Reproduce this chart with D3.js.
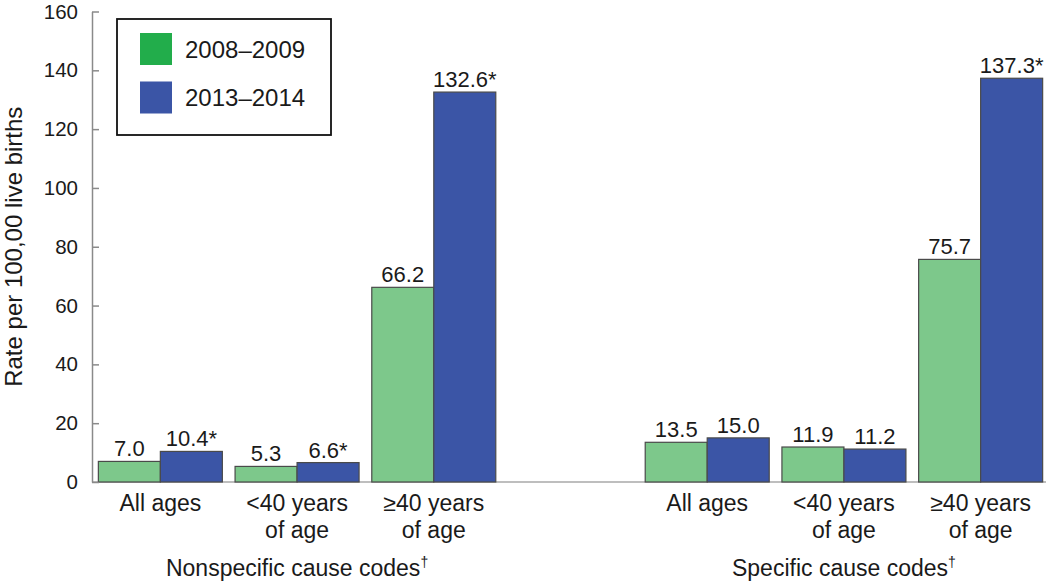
<!DOCTYPE html>
<html>
<head>
<meta charset="utf-8">
<script src="https://cdn.jsdelivr.net/npm/d3@7"></script>
<style>
  html, body { margin: 0; padding: 0; background: #fff; }
  svg { display: block; font-family: "Liberation Sans", Arial, Helvetica, sans-serif; }
</style>
</head>
<body>
<svg id="chart" width="1050" height="582"></svg>
<script>
// ---- data ----
const groupNames = ["Nonspecific cause codes", "Specific cause codes"];
const ageCategories = [["All ages"], ["<40 years", "of age"], ["≥40 years", "of age"]];
const seriesNames = ["2008–2009", "2013–2014"];
const rates2008 = [7.0, 5.3, 66.2, 13.5, 11.9, 75.7];
const rates2013 = [10.4, 6.6, 132.6, 15.0, 11.2, 137.3];
const significant2008 = [false, false, false, false, false, false];
const significant2013 = [true, true, true, false, false, true];
const yTicks = [0, 20, 40, 60, 80, 100, 120, 140, 160];
const yTitle = "Rate per 100,00 live births";

// ---- styles ----
const barColors = ["#7dc88b", "#3b55a6"];
const legendColors = ["#22ad4b", "#3b55a6"];

const svg = d3.select("#chart");

// slot keys: group0 cats, a gap, group1 cats
const slots = [];
groupNames.forEach((g, gi) => {
  ageCategories.forEach((c, ci) => slots.push({ key: gi + "-" + ci, gi, ci, idx: gi * 3 + ci }));
  if (gi === 0) slots.push({ key: "gap", gap: true });
});
const dataSlots = slots.filter(s => !s.gap);

const x = d3.scaleBand()
  .domain(slots.map(s => s.key))
  .range([92, 1049])
  .paddingInner(0.093)
  .paddingOuter(0.0465);

const xs = d3.scaleBand().domain(seriesNames).range([0, x.bandwidth()]).padding(0);

const y = d3.scaleLinear().domain([0, 160]).range([482, 11.5]);

// baseline
svg.append("line")
  .attr("x1", 92).attr("x2", 1046)
  .attr("y1", y(0)).attr("y2", y(0))
  .attr("stroke", "#a8a8a8").attr("stroke-width", 1.5);

// bars
const seriesData = [rates2008, rates2013];
const sigData = [significant2008, significant2013];

seriesNames.forEach((sName, si) => {
  const g = svg.append("g");
  g.selectAll("rect")
    .data(dataSlots)
    .join("rect")
    .attr("x", d => x(d.key) + xs(sName))
    .attr("y", d => y(seriesData[si][d.idx]))
    .attr("width", xs.bandwidth())
    .attr("height", d => y(0) - y(seriesData[si][d.idx]))
    .attr("fill", barColors[si])
    .attr("stroke", "#4a4a4a")
    .attr("stroke-width", 1.2);

  g.selectAll("text")
    .data(dataSlots)
    .join("text")
    .attr("x", d => x(d.key) + xs(sName) + xs.bandwidth() / 2)
    .attr("y", d => y(seriesData[si][d.idx]) - 5)
    .attr("text-anchor", "middle")
    .attr("font-size", 22)
    .attr("fill", "#1a1a1a")
    .text(d => seriesData[si][d.idx].toFixed(1) + (sigData[si][d.idx] ? "*" : ""));
});

// y axis
const yAxis = d3.axisLeft(y)
  .tickValues(yTicks)
  .tickSizeInner(-7)
  .tickSizeOuter(0)
  .tickPadding(14)
  .tickFormat(d3.format("d"));

const ya = svg.append("g").attr("transform", "translate(92,0)").call(yAxis);
ya.select(".domain").attr("stroke", "#8a8a8a").attr("stroke-width", 1.5);
ya.selectAll(".tick line").attr("stroke", "#8a8a8a").attr("stroke-width", 1.5);
ya.selectAll(".tick text")
  .attr("font-size", 20.5)
  .attr("font-family", "Liberation Sans, Arial, sans-serif")
  .attr("fill", "#1a1a1a");

// y title
svg.append("text")
  .attr("transform", "translate(22," + ((y(0) + y(160)) / 2) + ") rotate(-90)")
  .attr("text-anchor", "middle")
  .attr("font-size", 24)
  .attr("fill", "#1a1a1a")
  .text(yTitle);

// category labels
const catG = svg.append("g");
dataSlots.forEach(d => {
  const cx = x(d.key) + x.bandwidth() / 2;
  const lines = ageCategories[d.ci];
  const t = catG.append("text")
    .attr("text-anchor", "middle")
    .attr("font-size", 23)
    .attr("fill", "#1a1a1a");
  lines.forEach((ln, li) => {
    t.append("tspan").attr("x", cx).attr("y", 511 + li * 27).text(ln);
  });
});

// group labels (centered under middle category of each group)
groupNames.forEach((gName, gi) => {
  const mid = dataSlots.find(s => s.gi === gi && s.ci === 1);
  const cx = x(mid.key) + x.bandwidth() / 2;
  const t = svg.append("text")
    .attr("x", cx).attr("y", 576)
    .attr("text-anchor", "middle")
    .attr("font-size", 23)
    .attr("fill", "#1a1a1a");
  t.append("tspan").text(gName);
  t.append("tspan").attr("font-size", 14).attr("dy", -9).text("†");
});

// legend
const lg = svg.append("g");
lg.append("rect")
  .attr("x", 117).attr("y", 19).attr("width", 214).attr("height", 116)
  .attr("fill", "#fff").attr("stroke", "#111").attr("stroke-width", 1.8);
seriesNames.forEach((s, i) => {
  const yy = 33 + i * 48.5;
  lg.append("rect")
    .attr("x", 140).attr("y", yy).attr("width", 32).attr("height", 32)
    .attr("fill", legendColors[i]);
  lg.append("text")
    .attr("x", 185).attr("y", yy + 16)
    .attr("dy", "0.36em")
    .attr("font-size", 24)
    .attr("fill", "#1a1a1a")
    .text(s);
});
</script>
</body>
</html>
